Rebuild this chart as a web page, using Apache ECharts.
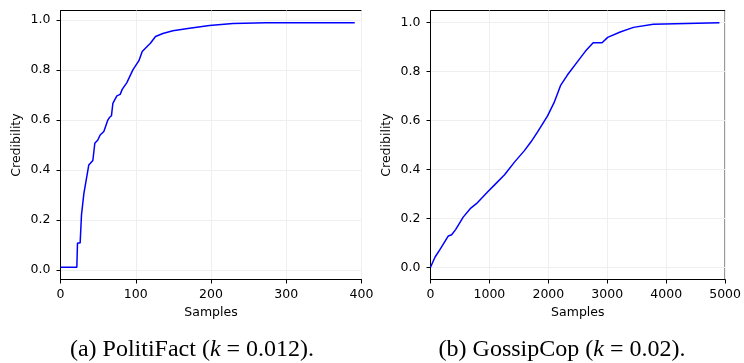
<!DOCTYPE html>
<html>
<head>
<meta charset="utf-8">
<script src="https://cdn.jsdelivr.net/npm/echarts@6/dist/echarts.min.js"></script>
<style>
html,body{margin:0;padding:0;background:#fff;}
#chart{width:744px;height:363px;}
</style>
</head>
<body>
<div id="chart"></div>
<script>
// PolitiFact curve (samples, credibility)
const pfX = [0, 21.7, 22.6, 26.1, 27.9, 31, 33.2, 37.6, 43, 45.6, 49.6, 52.7, 57.6, 62.9, 65, 67.7, 69.6, 74.9, 79.3, 82, 88.2, 96.2, 104.2, 108.6, 116.1, 119.2, 126.3, 136, 149.3, 171.5, 198, 229, 273, 391];
const pfY = [0.01, 0.01, 0.107, 0.107, 0.22, 0.304, 0.312, 0.42, 0.438, 0.507, 0.52, 0.54, 0.554, 0.6, 0.61, 0.617, 0.667, 0.697, 0.703, 0.723, 0.75, 0.801, 0.838, 0.875, 0.898, 0.907, 0.935, 0.947, 0.958, 0.968, 0.979, 0.987, 0.99, 0.99];
// GossipCop curve
const gcX = [0, 78, 162, 303, 359, 426, 555, 684, 779, 976, 1088, 1257, 1425, 1594, 1706, 1818, 1987, 2099, 2211, 2323, 2492, 2631, 2761, 2912, 3007, 3220, 3445, 3781, 4342, 4904];
const gcY = [0, 0.042, 0.073, 0.128, 0.133, 0.154, 0.205, 0.242, 0.26, 0.31, 0.337, 0.378, 0.43, 0.477, 0.513, 0.554, 0.619, 0.674, 0.745, 0.786, 0.84, 0.884, 0.918, 0.918, 0.94, 0.962, 0.981, 0.994, 0.997, 1.0];

const yTicks = [0, 0.2, 0.4, 0.6, 0.8, 1.0];
const pfXTicks = [0, 100, 200, 300, 400];
const gcXTicks = [0, 1000, 2000, 3000, 4000, 5000];

const FONT = 'DejaVu Sans';
const tickFont = {fontFamily: FONT, fontSize: 12.5, color: '#000'};

function xAxis(gi, ticks) {
  return {
    type: 'value', gridIndex: gi,
    min: ticks[0], max: ticks[ticks.length - 1], interval: ticks[1] - ticks[0],
    name: 'Samples', nameLocation: 'middle', nameGap: 27,
    nameTextStyle: {fontFamily: FONT, fontSize: 12.5, color: '#000'},
    axisLine: {show: true, onZero: false, lineStyle: {color: '#000', width: 1}},
    axisTick: {show: true, inside: false, length: 4, lineStyle: {color: '#000', width: 1}},
    axisLabel: Object.assign({margin: 9}, tickFont, {formatter: v => String(v)}),
    splitLine: {show: true, lineStyle: {color: '#efefef', width: 1}}
  };
}
function yAxis(gi, mn, mx) {
  return {
    type: 'value', gridIndex: gi, min: mn, max: mx,
    name: 'Credibility', nameLocation: 'middle', nameGap: 37,
    nameTextStyle: {fontFamily: FONT, fontSize: 12.5, color: '#000'},
    axisLine: {show: true, onZero: false, lineStyle: {color: '#000', width: 1}},
    axisTick: {show: true, inside: false, length: 4, customValues: yTicks, lineStyle: {color: '#000', width: 1}},
    axisLabel: Object.assign({margin: 10, customValues: yTicks}, tickFont, {formatter: v => v.toFixed(1)}),
    splitLine: {show: true, lineStyle: {color: '#efefef', width: 1}}
  };
}

const chart = echarts.init(document.getElementById('chart'), null, {renderer: 'canvas'});
const capRich = {
  i: {fontFamily: 'Liberation Serif', fontStyle: 'italic', fontSize: 24, fill: '#000', color: '#000'}
};
chart.setOption({
  animation: false,
  grid: [
    {left: 60.5, top: 10.5, width: 301, height: 269, show: true, borderColor: '#000', borderWidth: 1, backgroundColor: 'transparent'},
    {left: 430.5, top: 10.5, width: 297, height: 269, show: true, borderColor: '#000', borderWidth: 1, backgroundColor: 'transparent'}
  ],
  xAxis: [xAxis(0, pfXTicks), xAxis(1, gcXTicks)],
  yAxis: [yAxis(0, -0.039, 1.039), yAxis(1, -0.05, 1.05)],
  series: [
    {type: 'line', xAxisIndex: 0, yAxisIndex: 0, showSymbol: false, silent: true,
     lineStyle: {color: '#0000ff', width: 1.5}, data: pfX.map((x, i) => [x, pfY[i]])},
    {type: 'line', xAxisIndex: 1, yAxisIndex: 1, showSymbol: false, silent: true,
     lineStyle: {color: '#0000ff', width: 1.5}, data: gcX.map((x, i) => [x, gcY[i]])}
  ],
  graphic: [
    {type: 'text', x: 192, y: 350, style: {
      text: '(a) PolitiFact ({i|k} = 0.012).', rich: capRich,
      font: '24px "Liberation Serif"', fill: '#000', align: 'center', verticalAlign: 'middle'}},
    {type: 'text', x: 562, y: 350, style: {
      text: '(b) GossipCop ({i|k} = 0.02).', rich: capRich,
      font: '24px "Liberation Serif"', fill: '#000', align: 'center', verticalAlign: 'middle'}}
  ]
});
</script>
</body>
</html>
